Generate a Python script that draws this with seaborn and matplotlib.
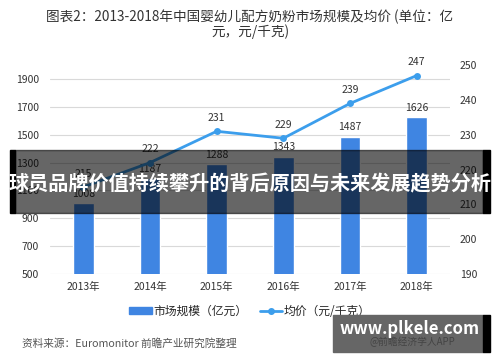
import numpy as np
import pandas as pd
import matplotlib
matplotlib.use("Agg")
import matplotlib.pyplot as plt
import seaborn as sns
from matplotlib.patches import Rectangle
from matplotlib.lines import Line2D

years = ["2013年", "2014年", "2015年", "2016年", "2017年", "2018年"]
market_size = [1008, 1187, 1288, 1343, 1487, 1626]
avg_price = [215, 222, 231, 229, 239, 247]

bar_color = "#3F85E2"
line_color = "#3C9EEC"

sns.set_style("white")
plt.rcParams['font.family'] = ['Noto Sans CJK SC', 'DejaVu Sans']

df = pd.DataFrame({"year": years, "size": market_size, "price": avg_price})

fig = plt.figure(figsize=(5, 3.62), dpi=100)
ax = fig.add_axes([0.1, 0.243, 0.8, 0.577])
ax2 = ax.twinx()

sns.barplot(data=df, x="year", y="size", color=bar_color, width=0.31,
            saturation=1, ax=ax, zorder=2)
sns.lineplot(data=df, x="year", y="price", color=line_color, marker="o",
             markersize=5, markeredgewidth=0, linewidth=2, ax=ax2, zorder=3)

ax.set_ylim(500, 2000)
ax.set_yticks(range(500, 2000, 200))
ax2.set_ylim(190, 250)
ax2.set_yticks(range(190, 251, 10))
ax.set_xlim(-0.5, 5.5)

ax.yaxis.grid(True, color="#D9D9D9", linewidth=0.8, zorder=0)
ax.set_axisbelow(True)
for a in (ax, ax2):
    for s in a.spines.values():
        s.set_visible(False)
    a.set_xlabel("")
    a.set_ylabel("")
    a.tick_params(length=0, labelsize=7.5, colors="#333333")
ax.tick_params(axis="x", pad=6)
ax.tick_params(axis="y", pad=8)
ax2.tick_params(axis="y", pad=7)

for i, v in enumerate(market_size):
    ax.annotate(str(v), (i, v), xytext=(0, 3), textcoords="offset points",
                ha="center", va="bottom", fontsize=7.5, color="#333333")
for i, v in enumerate(avg_price):
    ax2.annotate(str(v), (i, v), xytext=(0, 6), textcoords="offset points",
                 ha="center", va="bottom", fontsize=7.5, color="#333333")

fig.text(0.5, 0.953, "图表2：2013-2018年中国婴幼儿配方奶粉市场规模及均价 (单位：亿",
         ha="center", va="center", fontsize=9.8, color="#333333")
fig.text(0.5, 0.912, "元，元/千克)", ha="center", va="center", fontsize=9.8,
         color="#333333")

handles = [Rectangle((0, 0), 1, 1, color=bar_color),
           Line2D([], [], color=line_color, marker="o", markersize=4, linewidth=2)]
fig.legend(handles, ["市场规模（亿元）", "均价（元/千克）"], loc="center",
           bbox_to_anchor=(0.5, 0.14), ncol=2, frameon=False, fontsize=8.5,
           handlelength=1.9, handleheight=0.6, columnspacing=1.1,
           handletextpad=0.1)

fig.text(0.044, 0.05, "资料来源：Euromonitor 前瞻产业研究院整理", ha="left",
         va="center", fontsize=7.7, color="#555555")

# overlay banner
fig.patches.append(Rectangle((10 / 500, 1 - 213 / 362), 5 / 500, 63 / 362,
                             transform=fig.transFigure, color="black", zorder=10))
fig.patches.append(Rectangle((15 / 500, 1 - 213 / 362), 468 / 500, 63 / 362,
                             transform=fig.transFigure, color="black", alpha=0.6,
                             zorder=10))
fig.patches.append(Rectangle((483 / 500, 1 - 213 / 362), 7 / 500, 63 / 362,
                             transform=fig.transFigure, color="black", zorder=10))
fig.text(0.5, 1 - 184 / 362, "球员品牌价值持续攀升的背后原因与未来发展趋势分析",
         ha="center", va="center", fontsize=14.5, fontweight="bold",
         color="white", zorder=11)

# site watermark
fig.patches.append(Rectangle((333 / 500, 1 - 352 / 362), 150 / 500, 37 / 362,
                             transform=fig.transFigure, color="#666666", zorder=10))
fig.patches.append(Rectangle((483 / 500, 1 - 352 / 362), 7 / 500, 37 / 362,
                             transform=fig.transFigure, color="black", zorder=10))
fig.text(412 / 500, 1 - 342 / 362, "@前瞻经济学人APP", ha="center", va="center",
         fontsize=7, color="#444444", zorder=11)
fig.text(410 / 500, 1 - 329 / 362, "www.plkele.com", ha="center", va="center",
         fontsize=12, fontweight="bold", color="white", zorder=12)

fig.savefig("out.png", dpi=100)
